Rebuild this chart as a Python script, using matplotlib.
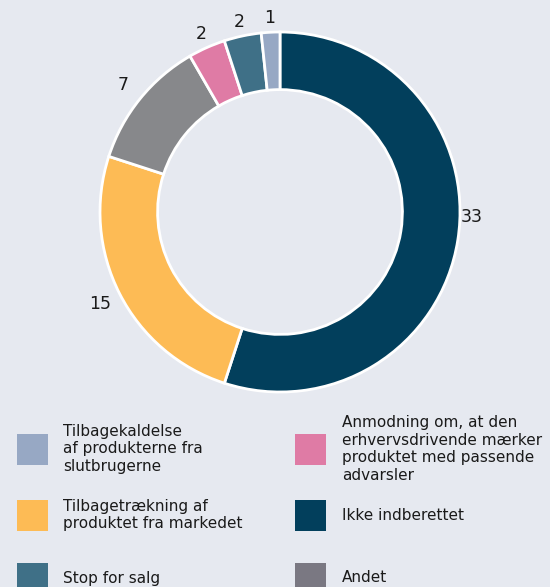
import matplotlib
matplotlib.use('Agg')
import matplotlib.pyplot as plt
from matplotlib.patches import Rectangle

plt.rcParams['font.family'] = ['DejaVu Sans']

# data (clockwise from top)
values = [33, 15, 7, 2, 2, 1]
colors = ['#023f5c', '#fdbb55', '#87888b', '#df7ba5', '#3f7087', '#97a8c4']
legend_colors = ['#023f5c', '#fdbb55', '#7a7882', '#df7ba5', '#3f7087', '#97a8c4']
names = ['Ikke indberettet', 'Tilbagetrækning af\nproduktet fra markedet', 'Andet',
         'Anmodning om, at den\nerhvervsdrivende mærker\nproduktet med passende\nadvarsler',
         'Stop for salg', 'Tilbagekaldelse\naf produkterne fra\nslutbrugerne']

# legend layout: (column, row) for each category
legend_slots = [(1, 1), (0, 1), (1, 2), (1, 0), (0, 2), (0, 0)]

BG = '#e6e9f0'
W, H = 550, 587

fig = plt.figure(figsize=(W / 100, H / 100), dpi=100, facecolor=BG)

# axes so the donut center lands at ~(280, 212) px with radius ~180 px
half = 225
ax = fig.add_axes([(280 - half) / W, (H - 212 - half) / H, 2 * half / W, 2 * half / H])
ax.set_facecolor(BG)
lim = half / 180
ax.set_xlim(-lim, lim)
ax.set_ylim(-lim, lim)
ax.set_aspect('equal')
ax.axis('off')

wedges, texts = ax.pie(values, colors=colors, startangle=90, counterclock=False,
                       labels=[str(v) for v in values], labeldistance=1.08,
                       wedgeprops=dict(width=0.32, edgecolor='white', linewidth=2),
                       textprops=dict(fontsize=12.5, color='#1a1a1a'))
for t in texts:
    t.set_ha('center')
    t.set_va('center')
# labels on the left side sit a little further out in the reference
for t, v in zip(texts[1:3], values[1:3]):
    x, y = t.get_position()
    t.set_position((x * 1.04, y * 1.04))
# the biggest label sits near horizontal in the reference
x0, y0 = texts[0].get_position()
texts[0].set_position((x0, -0.03))

# manual legend in two columns
col_sq = [17, 295]
col_tx = [63, 342]
row_y = [449, 515, 578]
sq = 31
for name, col, (c, r) in zip(names, legend_colors, legend_slots):
    yc = row_y[r]
    fig.add_artist(Rectangle((col_sq[c] / W, (H - yc - sq / 2) / H), sq / W, sq / H,
                             transform=fig.transFigure, facecolor=col, edgecolor='none'))
    fig.text(col_tx[c] / W, (H - yc) / H, name, ha='left', va='center',
             fontsize=11, color='#1a1a1a', linespacing=1.2)

plt.savefig('out.png', dpi=100, facecolor=BG)
